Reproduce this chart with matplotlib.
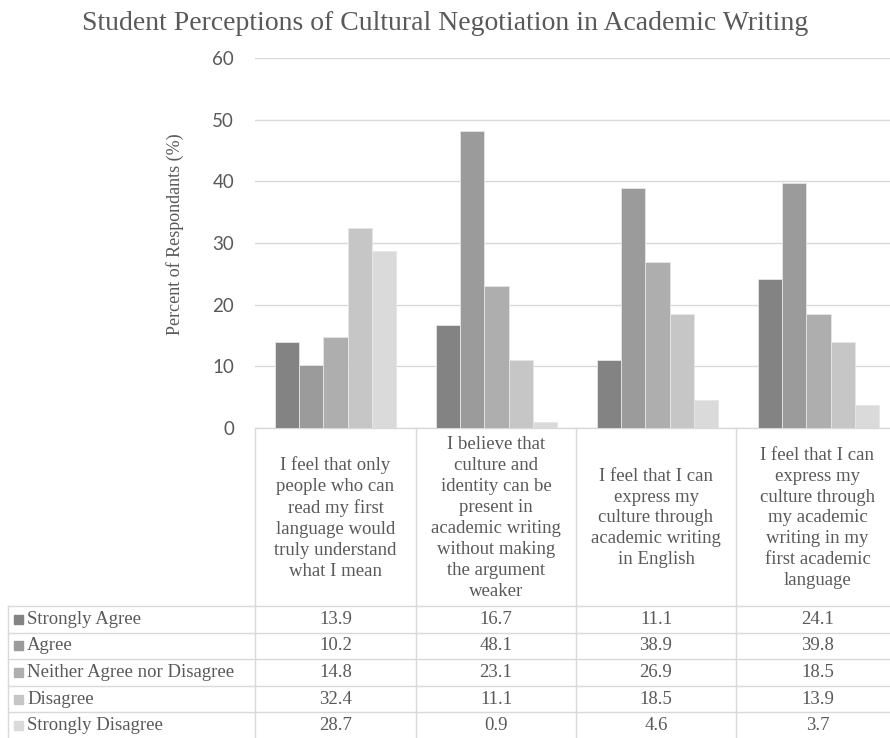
import matplotlib
matplotlib.use("Agg")
import matplotlib.pyplot as plt
from matplotlib.patches import Rectangle
from matplotlib.lines import Line2D
import numpy as np

categories = [
    "I feel that only\npeople who can\nread my first\nlanguage would\ntruly understand\nwhat I mean",
    "I believe that\nculture and\nidentity can be\npresent in\nacademic writing\nwithout making\nthe argument\nweaker",
    "I feel that I can\nexpress my\nculture through\nacademic writing\nin English",
    "I feel that I can\nexpress my\nculture through\nmy academic\nwriting in my\nfirst academic\nlanguage",
]
series_names = ["Strongly Agree", "Agree", "Neither Agree nor Disagree", "Disagree", "Strongly Disagree"]
strongly_agree = [13.9, 16.7, 11.1, 24.1]
agree = [10.2, 48.1, 38.9, 39.8]
neither = [14.8, 23.1, 26.9, 18.5]
disagree = [32.4, 11.1, 18.5, 13.9]
strongly_disagree = [28.7, 0.9, 4.6, 3.7]
series_values = [strongly_agree, agree, neither, disagree, strongly_disagree]
colors = ["#838383", "#9b9b9b", "#aeaeae", "#c6c6c6", "#dadada"]

W, H = 890, 738
fig = plt.figure(figsize=(W / 100, H / 100), dpi=100)

def fx(x):
    return x / W

def fy(y):
    return 1 - y / H

serif = ["Liberation Serif", "DejaVu Serif"]
text_color = "#595959"
line_color = "#d9d9d9"

# axes geometry (pixels)
ax_left, ax_right, ax_top, ax_bottom = 255, 899, 58, 428
ax = fig.add_axes([fx(ax_left), fy(ax_bottom), (ax_right - ax_left) / W, (ax_bottom - ax_top) / H])

n = len(series_names)
bw = 0.75 / n
x = np.arange(len(categories))
for i, (name, vals) in enumerate(zip(series_names, series_values)):
    ax.bar(x - 0.375 + bw * (i + 0.5), vals, width=bw, color=colors[i],
           edgecolor="#e6e6e6", linewidth=0.6, zorder=3, label=name)

ax.set_xlim(-0.5, len(categories) - 0.5)
ax.set_ylim(0, 60)
ax.set_yticks(range(0, 61, 10))
ax.yaxis.grid(True, color=line_color, linewidth=1, zorder=0)
ax.set_xticks([])
for s in ["top", "right", "left"]:
    ax.spines[s].set_visible(False)
ax.spines["bottom"].set_color(line_color)
ax.spines["bottom"].set_linewidth(1)
ax.tick_params(axis="y", length=0, pad=15, labelsize=13.5, labelcolor=text_color)
for lbl in ax.get_yticklabels():
    lbl.set_fontfamily(["Lato", "DejaVu Sans"])

fig.text(fx(175), fy(234), "Percent of Respondants (%)", rotation=90, ha="center", va="center",
         fontsize=13, color=text_color, family=serif)

fig.text(fx(445), fy(24), "Student Perceptions of Cultural Negotiation in Academic Writing",
         ha="center", va="center", fontsize=20, color=text_color, family=serif)

# data table
col_edges = [255, 416, 576, 736, 899]
header_top, header_bottom = 428, 606
row_h = 26.6
table_left = 8

def hline(y, x0, x1):
    fig.add_artist(Line2D([fx(x0), fx(x1)], [fy(y), fy(y)], color=line_color, lw=1, transform=fig.transFigure))

def vline(xp, y0, y1):
    fig.add_artist(Line2D([fx(xp), fx(xp)], [fy(y0), fy(y1)], color=line_color, lw=1, transform=fig.transFigure))

for ce in col_edges:
    vline(ce, header_top, H + 2)
vline(table_left, header_bottom, H + 2)
for r in range(n + 1):
    hline(header_bottom + r * row_h, table_left, W + 10)

for j, cat in enumerate(categories):
    cx = (col_edges[j] + col_edges[j + 1]) / 2
    fig.text(fx(cx), fy((header_top + header_bottom) / 2 + 1), cat, ha="center", va="center",
             fontsize=13.5, color=text_color, family=serif, linespacing=1.3)

for i, name in enumerate(series_names):
    yc = header_bottom + (i + 0.5) * row_h
    fig.add_artist(Rectangle((fx(14), fy(yc + 4.5)), 9 / W, 9 / H, color=colors[i], transform=fig.transFigure))
    fig.text(fx(27), fy(yc), name, ha="left", va="center", fontsize=13.5, color=text_color, family=serif)
    for j in range(len(categories)):
        cx = (col_edges[j] + col_edges[j + 1]) / 2
        fig.text(fx(cx), fy(yc), f"{series_values[i][j]:.1f}", ha="center", va="center",
                 fontsize=13.5, color=text_color, family=serif)

fig.savefig("out.png", dpi=100, facecolor="white")
